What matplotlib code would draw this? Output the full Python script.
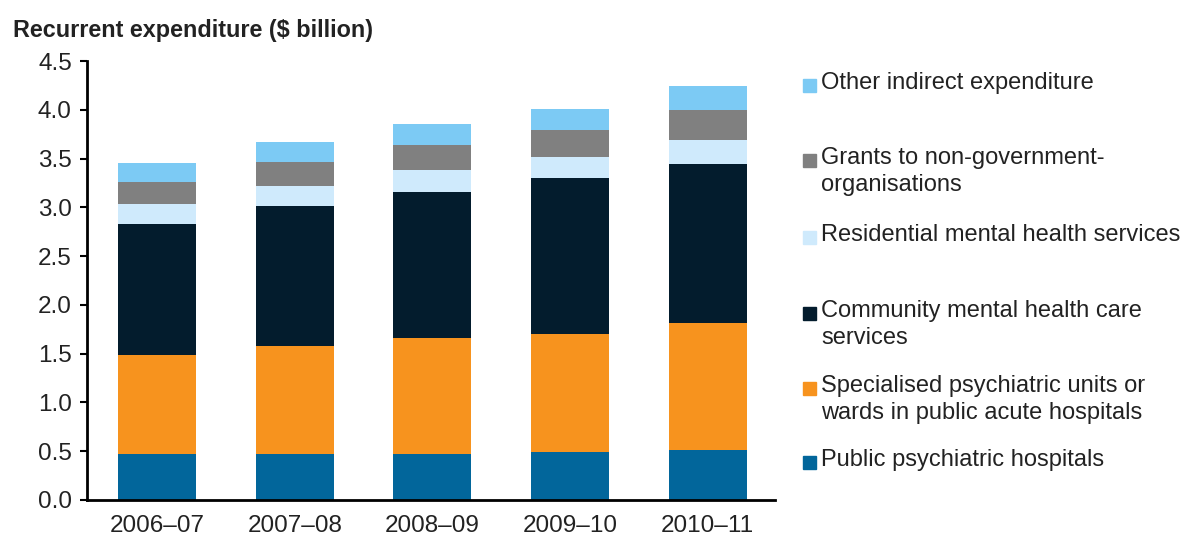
import matplotlib.pyplot as plt
from matplotlib.patches import Rectangle
import numpy as np

plt.rcParams['font.family'] = ['Liberation Sans', 'DejaVu Sans']

# Recurrent expenditure, $ billion
years = ["2006–07", "2007–08", "2008–09", "2009–10", "2010–11"]
public_hosp = [0.47, 0.47, 0.47, 0.49, 0.51]
specialised = [1.02, 1.11, 1.19, 1.21, 1.30]
community = [1.34, 1.43, 1.50, 1.60, 1.63]
residential = [0.20, 0.21, 0.22, 0.22, 0.25]
grants = [0.225, 0.24, 0.26, 0.27, 0.31]
other = [0.20, 0.205, 0.21, 0.22, 0.24]

series = [
    ("Public psychiatric hospitals", public_hosp, "#02669b"),
    ("Specialised psychiatric units or\nwards in public acute hospitals", specialised, "#f7931e"),
    ("Community mental health care\nservices", community, "#031c2d"),
    ("Residential mental health services", residential, "#cfeafc"),
    ("Grants to non-government-\norganisations", grants, "#808080"),
    ("Other indirect expenditure", other, "#7ccaf4"),
]

fig = plt.figure(figsize=(11.86, 5.39), dpi=100)
ax = fig.add_axes([0.0734, 0.0724, 0.58, 0.8144])

x = np.arange(len(years))
bottom = np.zeros(len(years))
for label, vals, col in series:
    ax.bar(x, vals, width=0.567, bottom=bottom, color=col, label=label)
    bottom += np.array(vals)

ax.set_xlim(-0.51, 4.49)
ax.set_ylim(0, 4.5)
ax.set_yticks(np.arange(0, 4.51, 0.5))
ax.set_yticklabels([f"{v:.1f}" for v in np.arange(0, 4.51, 0.5)])
ax.set_xticks(x)
ax.set_xticklabels(years)
ax.tick_params(axis='x', length=0, pad=11, labelsize=17.5, labelcolor="#222222")
ax.tick_params(axis='y', length=5, width=1.5, pad=6, labelsize=17.5, labelcolor="#222222")
for s in ["top", "right"]:
    ax.spines[s].set_visible(False)
for s in ["left", "bottom"]:
    ax.spines[s].set_linewidth(2)

fig.text(13 / 1186, 1 - 31 / 539, "Recurrent expenditure ($ billion)",
         fontsize=16.8, fontweight="bold", color="#222222", va="center")

# legend drawn by hand to match uneven spacing
leg_y = [85, 160, 237, 313, 388, 462]  # pixel centre of first line, top to bottom
W, H = 1186, 539
for (label, vals, col), yp in zip(series[::-1], leg_y):
    fig.patches.append(Rectangle((803 / W, 1 - (yp + 6.5) / H), 13 / W, 13 / H,
                                 transform=fig.transFigure, color=col))
    fig.text(821 / W, 1 - (yp - 13) / H, label, fontsize=17, color="#222222",
             va="top", linespacing=1.28)

fig.savefig("out.png", dpi=100)
